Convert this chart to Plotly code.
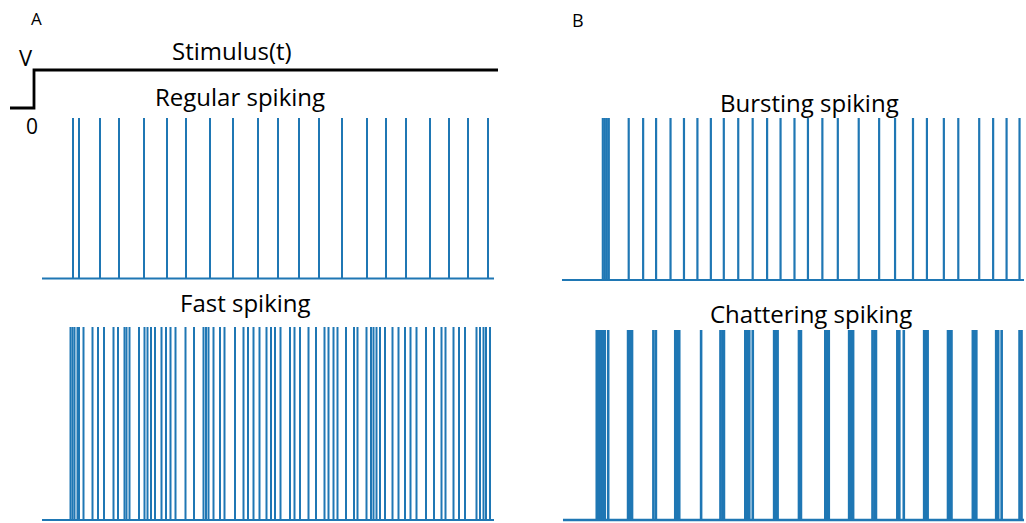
import plotly.graph_objects as go

W, H = 1026, 523
BLUE = "#1f77b4"

# ---------------- data (spike times, ms) ----------------
regular_spikes = [31, 37, 58, 77, 102, 125, 144, 168, 191, 216, 236, 257, 277, 300,
                  325, 344, 364, 388, 407, 426, 446]
fast_spikes = [28.5, 30.5, 32.5, 35.5, 37, 41.5, 50.5, 56, 62, 71.5, 76, 82.5, 84.5, 87.5,
               97, 102.5, 105.5, 109, 113, 119.5, 124, 128.5, 133.5, 143.5, 152, 161.5,
               164, 166.5, 171.5, 178, 182.5, 193, 201.5, 206, 211.5, 217.5, 224.5, 229,
               233, 238.5, 248, 252.5, 258, 266.5, 274, 282.5, 286.5, 291.5, 295.5, 304,
               312, 315.5, 324.5, 329, 331.5, 334.5, 338, 343, 350.5, 356.5, 363, 368.5,
               374.5, 384, 392, 399.5, 403.5, 411.5, 417, 423, 434.5, 438, 441.5, 444, 448]
bursting_spikes = [41, 43, 45, 47, 67, 81.5, 94.5, 109, 122.5, 136, 149.5, 162.5, 177,
                   191.5, 206, 219.5, 233.5, 247, 261.5, 277, 298, 318.5, 334.5, 352.5,
                   366.5, 383.5, 398, 419, 433, 446.5, 459.5]
chattering_spikes = [34, 36, 38, 40, 42, 45.5, 65.5, 67.5, 69.5, 91, 93.5, 113, 115, 117,
                     139, 158.5, 160.5, 162, 183.5, 185.5, 187.5, 191, 212.5, 214.5, 216,
                     237.5, 239.5, 264, 266, 267.5, 288, 290, 292, 311.5, 313.5, 315,
                     336.5, 338.5, 343, 363.5, 365.5, 367, 387.5, 389.5, 391, 412.5,
                     414.5, 416, 436, 438, 441.5, 459.5, 461.5]
stim_t = [-32, -8, -8, 456]
stim_v = [0, 0, 1, 1]
duration_A = 452
duration_B = 464

# ---------------- helpers ----------------
def xdom(px_left, px_right):
    return [max(0, px_left / W), min(1, px_right / W)]

def ydom(px_bottom, px_top):
    return [max(0, 1 - px_bottom / H), min(1, 1 - px_top / H)]

def spike_train(spikes, duration):
    xs, ys = [0, duration], [0, 0]
    for t in spikes:
        xs += [None, t, t]
        ys += [None, 0, 1]
    return xs, ys

fig = go.Figure()

panels = [
    ("x", "y", regular_spikes, duration_A, 42, 494, 278.5, 118, 2),
    ("x2", "y2", fast_spikes, duration_A, 42, 494, 520.5, 327, 2),
    ("x3", "y3", bursting_spikes, duration_B, 562, 1026, 280, 118, 2.2),
    ("x4", "y4", chattering_spikes, duration_B, 563, 1027, 521.5, 330, 2.6),
]

layout_axes = {}
for i, (xa, ya, spikes, dur, xl, xr, yb, yt, lw) in enumerate(panels):
    xs, ys = spike_train(spikes, dur)
    fig.add_trace(go.Scatter(x=xs, y=ys, mode="lines", xaxis=xa, yaxis=ya,
                             line=dict(color=BLUE, width=lw), hoverinfo="skip",
                             showlegend=False))
    pxu = (yb - yt)
    pad_b, pad_t = 3, 2
    yr = [-pad_b / pxu, 1 + pad_t / pxu]
    xr_ = [-2, dur + 2]
    xkey = "xaxis" if i == 0 else f"xaxis{i+1}"
    ykey = "yaxis" if i == 0 else f"yaxis{i+1}"
    layout_axes[xkey] = dict(domain=xdom(xl - 2, xr + 2), range=xr_, visible=False,
                             anchor=ya)
    layout_axes[ykey] = dict(domain=ydom(yb + pad_b, yt - pad_t), range=yr,
                             visible=False, anchor=xa)

# stimulus step (same time scale as panel A)
fig.add_trace(go.Scatter(x=stim_t, y=stim_v, mode="lines", xaxis="x5", yaxis="y5",
                         line=dict(color="black", width=2.8), hoverinfo="skip",
                         showlegend=False))
layout_axes["xaxis5"] = dict(domain=[0, 1], range=[-42, W - 42], visible=False,
                             anchor="y5")
layout_axes["yaxis5"] = dict(domain=ydom(112, 66), range=[-4 / 38, 1 + 4 / 38],
                             visible=False, anchor="x5")

FONT = "Open Sans"
def ann(text, x, y, size):
    return dict(text=text, x=x / W, y=1 - y / H, xref="paper", yref="paper",
                showarrow=False, xanchor="center", yanchor="middle",
                font=dict(family=FONT, size=size, color="black"))

annotations = [
    ann("A", 36, 18, 17),
    ann("B", 578, 20, 18),
    ann("V", 26, 57, 22),
    ann("0", 32, 126, 21),
    ann("Stimulus(t)", 232, 50, 24),
    ann("Regular spiking", 240, 96, 24),
    ann("Fast spiking", 245, 302, 24),
    ann("Bursting spiking", 809, 102, 24),
    ann("Chattering spiking", 811, 313, 24),
]

fig.update_layout(width=W, height=H, margin=dict(l=0, r=0, t=0, b=0),
                  paper_bgcolor="white", plot_bgcolor="rgba(0,0,0,0)",
                  hovermode=False, annotations=annotations, **layout_axes)

fig.write_html("out.html", config={"displayModeBar": False, "staticPlot": True},
               post_script="document.body.style.margin='0';document.body.style.overflow='hidden';")
